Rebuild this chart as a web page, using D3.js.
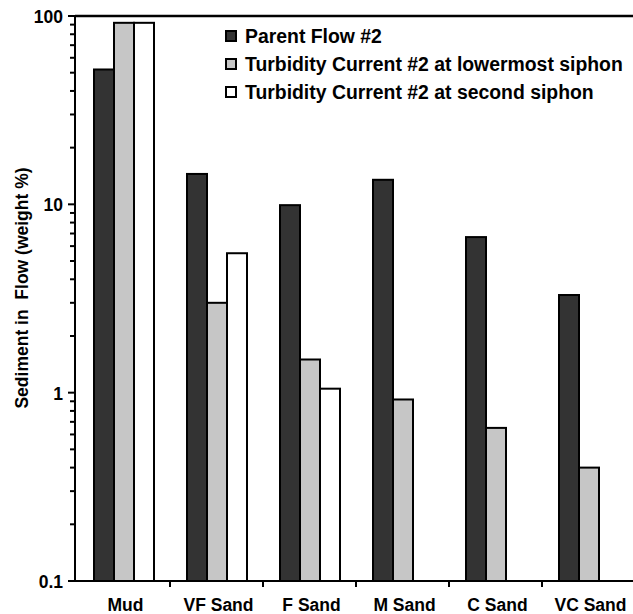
<!DOCTYPE html>
<html>
<head>
<meta charset="utf-8">
<script src="https://cdn.jsdelivr.net/npm/d3@7"></script>
<style>
  html, body { margin: 0; padding: 0; background: #fff; }
  svg { display: block; font-family: "Liberation Sans", Arial, Helvetica, sans-serif; font-weight: bold; }
</style>
</head>
<body>
<svg id="chart" width="633" height="614"></svg>
<script>
// Grain-size classes and sediment concentration (weight %) per flow
const categories = ["Mud", "VF Sand", "F Sand", "M Sand", "C Sand", "VC Sand"];
const seriesNames = [
  "Parent Flow #2",
  "Turbidity Current #2 at lowermost siphon",
  "Turbidity Current #2 at second siphon"
];
const parentFlow = [52, 14.5, 9.9, 13.5, 6.7, 3.3];
const lowermostSiphon = [92, 3.0, 1.5, 0.92, 0.65, 0.40];
const secondSiphon = [92, 5.5, 1.05, null, null, null];
const yTickValues = [0.1, 1, 10, 100];
const yTickLabels = ["0.1", "1", "10", "100"];

const seriesValues = [parentFlow, lowermostSiphon, secondSiphon];
const fills = ["#333333", "#c6c6c6", "#ffffff"];

const svg = d3.select("#chart");
const plotLeft = 75, plotRight = 635, plotTop = 16, plotBottom = 581;

const x = d3.scaleBand().domain(categories).range([77, plotRight]).paddingInner(0).paddingOuter(0);
const xSub = d3.scaleBand().domain(d3.range(seriesNames.length)).range([17, 77]);
const y = d3.scaleLog().domain([0.1, 100]).range([plotBottom, plotTop]);

// bars
const rows = [];
categories.forEach((c, i) => {
  seriesValues.forEach((vals, s) => {
    if (vals[i] != null) rows.push({ cat: c, s, v: vals[i] });
  });
});
svg.append("g").selectAll("rect").data(rows).join("rect")
  .attr("x", d => x(d.cat) + xSub(d.s))
  .attr("y", d => y(d.v))
  .attr("width", xSub.bandwidth())
  .attr("height", d => plotBottom - y(d.v))
  .attr("fill", d => fills[d.s])
  .attr("stroke", "#000")
  .attr("stroke-width", 2);

// top frame line
svg.append("line")
  .attr("x1", plotLeft).attr("x2", 633).attr("y1", plotTop).attr("y2", plotTop)
  .attr("stroke", "#000").attr("stroke-width", 2.5);

// y axis (log, with minor ticks)
const minor = [];
for (let e = -1; e < 2; e++) for (let k = 2; k <= 9; k++) minor.push(k * Math.pow(10, e));
const yAxis = svg.append("g").attr("transform", `translate(${plotLeft},0)`);
yAxis.append("line").attr("x1", 0).attr("x2", 0).attr("y1", plotTop).attr("y2", plotBottom)
  .attr("stroke", "#000").attr("stroke-width", 2);
yAxis.selectAll("line.minor").data(minor).join("line").attr("class", "minor")
  .attr("x1", -5).attr("x2", 0).attr("y1", d => y(d)).attr("y2", d => y(d))
  .attr("stroke", "#000").attr("stroke-width", 2);
yAxis.selectAll("line.major").data(yTickValues).join("line").attr("class", "major")
  .attr("x1", -7).attr("x2", 0).attr("y1", d => y(d)).attr("y2", d => y(d))
  .attr("stroke", "#000").attr("stroke-width", 2);
yAxis.selectAll("text").data(yTickValues).join("text")
  .attr("x", -12).attr("y", d => y(d) + 1)
  .attr("dy", "0.35em")
  .attr("text-anchor", "end")
  .attr("font-size", 17.5)
  .text((d, i) => yTickLabels[i]);

// x axis with ticks between categories
const xAxis = svg.append("g").attr("transform", `translate(0,${plotBottom})`);
xAxis.append("line").attr("x1", plotLeft).attr("x2", 633).attr("y1", 0).attr("y2", 0)
  .attr("stroke", "#000").attr("stroke-width", 2);
xAxis.selectAll("line.tick").data(categories.slice(1)).join("line").attr("class", "tick")
  .attr("x1", d => x(d)).attr("x2", d => x(d)).attr("y1", 0).attr("y2", 6)
  .attr("stroke", "#000").attr("stroke-width", 2);
xAxis.selectAll("text").data(categories).join("text")
  .attr("x", d => x(d) + x.bandwidth() / 2 + 2)
  .attr("y", 30)
  .attr("text-anchor", "middle")
  .attr("font-size", 17.5)
  .text(d => d);

// y axis title
svg.append("text")
  .attr("transform", "translate(28,288) rotate(-90)")
  .attr("text-anchor", "middle")
  .attr("font-size", 17.5)
  .style("white-space", "pre")
  .text("Sediment in  Flow (weight %)");

// legend
const legend = svg.append("g").attr("transform", "translate(225,36)");
const item = legend.selectAll("g").data(seriesNames).join("g")
  .attr("transform", (d, i) => `translate(0,${i * 28})`);
item.append("rect")
  .attr("x", 1).attr("y", -5).attr("width", 10).attr("height", 10)
  .attr("fill", (d, i) => fills[i]).attr("stroke", "#000").attr("stroke-width", 2);
item.append("text")
  .attr("x", 20).attr("y", 0).attr("dy", "0.35em")
  .attr("font-size", 19.4)
  .text(d => d);
</script>
</body>
</html>
